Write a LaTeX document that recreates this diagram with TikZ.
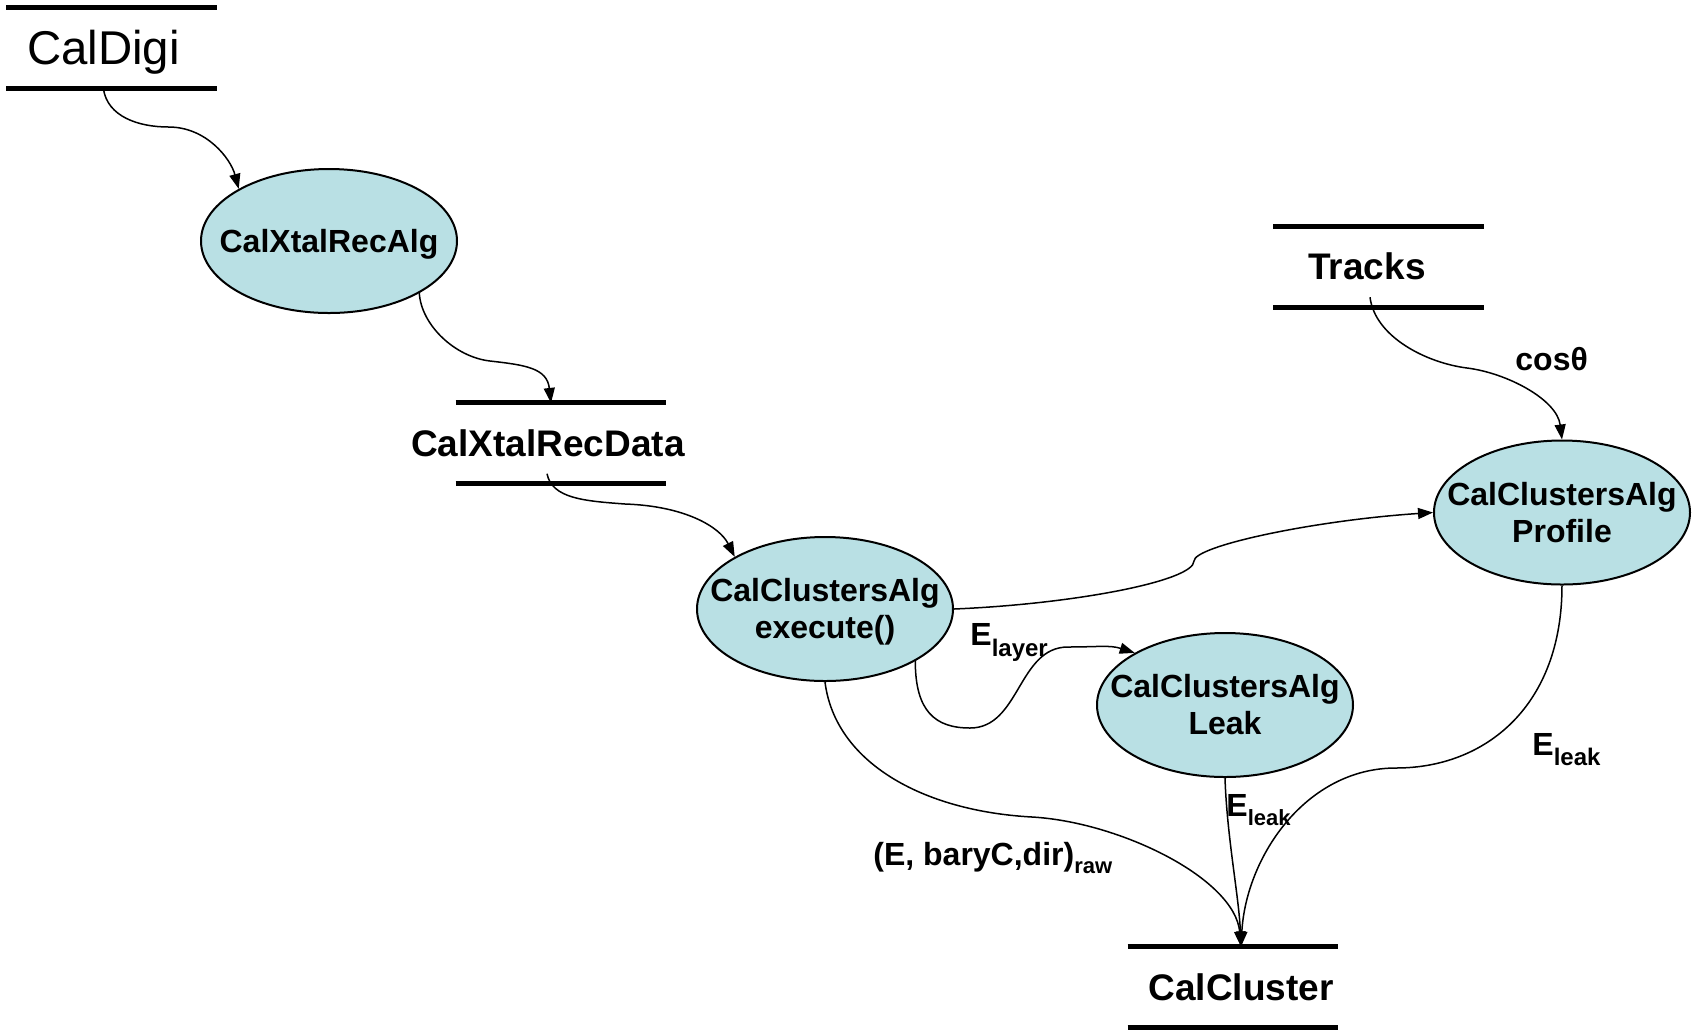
\documentclass[tikz,border=0pt]{standalone}
\usepackage{fontspec}
\setmainfont{Liberation Sans}
\usetikzlibrary{arrows.meta,shapes.geometric,calc}
\definecolor{procfill}{RGB}{185,224,228}
\newcommand\ptxt[1]{\makebox[0pt]{\raisebox{-2pt}[\height][\depth]{\begin{tabular}{@{}c@{}}#1\end{tabular}}}}
\newcommand\subtxt[3]{\raisebox{-#1}{\fontsize{#2}{#2}\selectfont #3}}
\begin{document}
\begin{tikzpicture}[x=0.5pt,y=-0.5pt,
  proc/.style={ellipse,draw=black,line width=1pt,fill=procfill,minimum width=128pt,minimum height=72pt,inner sep=0pt,font=\fontsize{16}{18.5}\selectfont\bfseries},
  store/.style={rectangle,minimum width=105pt,minimum height=40pt,inner sep=0pt},
  storeline/.style={line width=2.5pt},
  storetext/.style={inner sep=0pt,font=\fontsize{18.5}{20}\selectfont\bfseries},
  flow/.style={line width=0.75pt,-{Triangle[length=7.5pt,width=5.5pt]}},
  lab/.style={inner sep=0pt,anchor=base west,font=\fontsize{16}{18}\selectfont\bfseries},
]
\useasboundingbox (0,0) rectangle (1694,1030);

% data stores
\node[store] (cd) at (111.5,48.3) {};
\node[inner sep=0pt,font=\fontsize{23.7}{26}\selectfont] (cdt) at (103.4,52) {CalDigi};
\node[store] (xd) at (561,443.3) {};
\node[storetext] (xdt) at (548,443.3) {CalXtalRecData};
\node[store] (tr) at (1378.7,266.8) {};
\node[storetext] (trt) at (1367,266.7) {Tracks};
\node[store] (cc) at (1233,987) {};
\node[storetext] (cct) at (1241,987) {CalCluster};
\foreach \s in {cd,xd,tr,cc}{
  \draw[storeline] (\s.north west) -- (\s.north east);
  \draw[storeline] (\s.south west) -- (\s.south east);
}

% processes
\node[proc] (xa) at (329,241) {\ptxt{CalXtalRecAlg}};
\node[proc] (ex) at (825,609) {\ptxt{CalClustersAlg\\execute()}};
\node[proc] (pf) at (1562,512.5) {\ptxt{CalClustersAlg\\Profile}};
\node[proc] (lk) at (1225,705) {\ptxt{CalClustersAlg\\Leak}};

% mid points
\coordinate (m1) at (168.6,127);
\coordinate (m2) at (490,361);
\coordinate (m3) at (625,504);
\coordinate (m4) at (1467,368);
\coordinate (m5) at (1194,561);
\coordinate (m6a) at (970,728);
\coordinate (m6b) at (1068,647);
\coordinate (m7) at (1032,817);
\coordinate (m9) at (1396,768);

% connectors
\draw[flow] (cdt |- cd.south) .. controls +(4,28) and +(-30,0) .. (m1) .. controls +(38,0) and +(-8,-30) .. (xa.150);
\draw[flow] (xa.-30) .. controls +(2,32) and +(-35,-4) .. (m2) .. controls +(35,4) and +(-4,-35) .. ($(xdt |- xd.north)+(3,0)$);
\draw[flow] ($(xdt |- xd.south)+(-1,-10)$) .. controls +(5,25) and +(-40,-3) .. (m3) .. controls +(60,2) and +(-15,-30) .. (ex.150);
\draw[flow] ($(trt |- tr.south)+(3,-10)$) .. controls +(5,40) and +(-40,-5) .. (m4) .. controls +(40,5) and +(-5,-40) .. (pf.north);
\draw[flow] (ex.east) .. controls +(120,-5) and +(0,20) .. (m5) .. controls +(0,-15) and +(-120,8) .. (pf.west);
\draw[flow] (ex.-30) .. controls +(0,50) and +(-35,0) .. (m6a) .. controls +(50,0) and +(-50,0) .. (m6b) .. controls +(30,0) and +(-25,-8) .. (lk.150);
\draw[flow] (ex.south) .. controls +(10,80) and +(-110,-6) .. (m7) .. controls +(88,5) and +(-6,-68) .. (cct |- cc.north);
\draw[flow] (lk.south) .. controls +(2,60) and +(-2,-50) .. (cct |- cc.north);
\draw[flow] (pf.south) .. controls +(0,120) and +(90,0) .. (m9) .. controls +(-90,0) and +(5,-90) .. (cct |- cc.north);

% labels
\node[lab] (cos) at (1515,370) {cosθ};
\node[lab] (elayer) at (970,645) {E\subtxt{5.8pt}{12}{layer}};
\node[lab] (eleakr) at (1532,755) {E\subtxt{5pt}{12}{leak}};
\node[lab] (eleakm) at (1226,816.7) {E\subtxt{4.2pt}{11}{leak}};
\node[lab] (raw) at (873,865) {(E, baryC,dir)\subtxt{4.2pt}{11}{raw}};
\end{tikzpicture}
\end{document}
